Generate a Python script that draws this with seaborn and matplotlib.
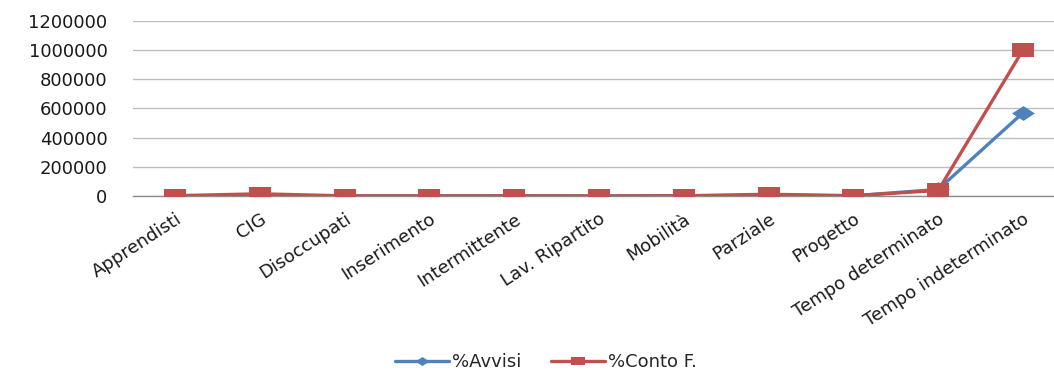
import numpy as np
import pandas as pd
import matplotlib
matplotlib.use("Agg")
import matplotlib.pyplot as plt
from matplotlib.path import Path
from matplotlib.lines import Line2D
import seaborn as sns

categories = ["Apprendisti", "CIG", "Disoccupati", "Inserimento", "Intermittente",
              "Lav. Ripartito", "Mobilità", "Parziale", "Progetto",
              "Tempo determinato", "Tempo indeterminato"]
avvisi = [1000, 1000, 500, 300, 800, 100, 700, 5000, 1500, 45000, 570000]
conto_f = [2000, 15000, 1000, 500, 1000, 200, 1500, 12000, 2000, 38000, 1000000]
y_ticks = [0, 200000, 400000, 600000, 800000, 1000000, 1200000]

BLUE = "#4F81BD"
RED = "#C0504D"

sns.set_theme(style="white")
plt.rcParams["font.family"] = ["DejaVu Sans"]

# wide, flat marker shapes
wide_diamond = Path([(-1.55, 0), (0, 1), (1.55, 0), (0, -1), (-1.55, 0)],
                    [Path.MOVETO, Path.LINETO, Path.LINETO, Path.LINETO, Path.CLOSEPOLY])
wide_square = Path([(-1.55, -1), (1.55, -1), (1.55, 1), (-1.55, 1), (-1.55, -1)],
                   [Path.MOVETO, Path.LINETO, Path.LINETO, Path.LINETO, Path.CLOSEPOLY])

pos = np.arange(len(categories))
df = pd.DataFrame({"pos": pos, "avvisi": avvisi, "conto": conto_f})

fig = plt.figure(figsize=(10.54, 3.71), dpi=100)
ax = fig.add_axes([0.1258, 0.4717, 0.885, 0.4725])

sns.lineplot(data=df, x="pos", y="avvisi", ax=ax, color=BLUE, linewidth=2.4,
             marker=wide_diamond, markersize=16.5, markeredgewidth=0,
             markerfacecolor=BLUE, legend=False, zorder=3)
sns.lineplot(data=df, x="pos", y="conto", ax=ax, color=RED, linewidth=2.4,
             marker=wide_square, markersize=16.5, markeredgewidth=0,
             markerfacecolor=RED, legend=False, zorder=4)

ax.set_xlim(-0.5, len(categories) - 0.5)
ax.set_ylim(0, 1200000)
ax.set_yticks(y_ticks)
ax.set_yticklabels([str(v) for v in y_ticks], fontsize=13, color="#1a1a1a")
ax.set_xticks(pos)
ax.set_xticklabels(categories, fontsize=13, color="#1a1a1a", rotation=33,
                   ha="right", rotation_mode="anchor")
ax.tick_params(axis="y", length=0, pad=18)
ax.tick_params(axis="x", length=0, pad=10)
ax.set_xlabel("")
ax.set_ylabel("")

ax.grid(axis="y", color="#BDBDBD", linewidth=1.0)
ax.grid(axis="x", visible=False)
for side in ["top", "right", "left"]:
    ax.spines[side].set_visible(False)
ax.spines["bottom"].set_color("#8C8C8C")
ax.spines["bottom"].set_linewidth(1.0)
ax.set_axisbelow(True)

handles = [
    Line2D([], [], color=BLUE, linewidth=2.4, marker=wide_diamond, markersize=10,
           markeredgewidth=0, markerfacecolor=BLUE, label="%Avvisi"),
    Line2D([], [], color=RED, linewidth=2.4, marker=wide_square, markersize=10,
           markeredgewidth=0, markerfacecolor=RED, label="%Conto F."),
]
fig.legend(handles=handles, loc="center", bbox_to_anchor=(546 / 1054, 0.024),
           ncol=2, frameon=False, fontsize=13, handlelength=3.0,
           handletextpad=0.2, columnspacing=1.6)

fig.savefig("out.png", dpi=100)
